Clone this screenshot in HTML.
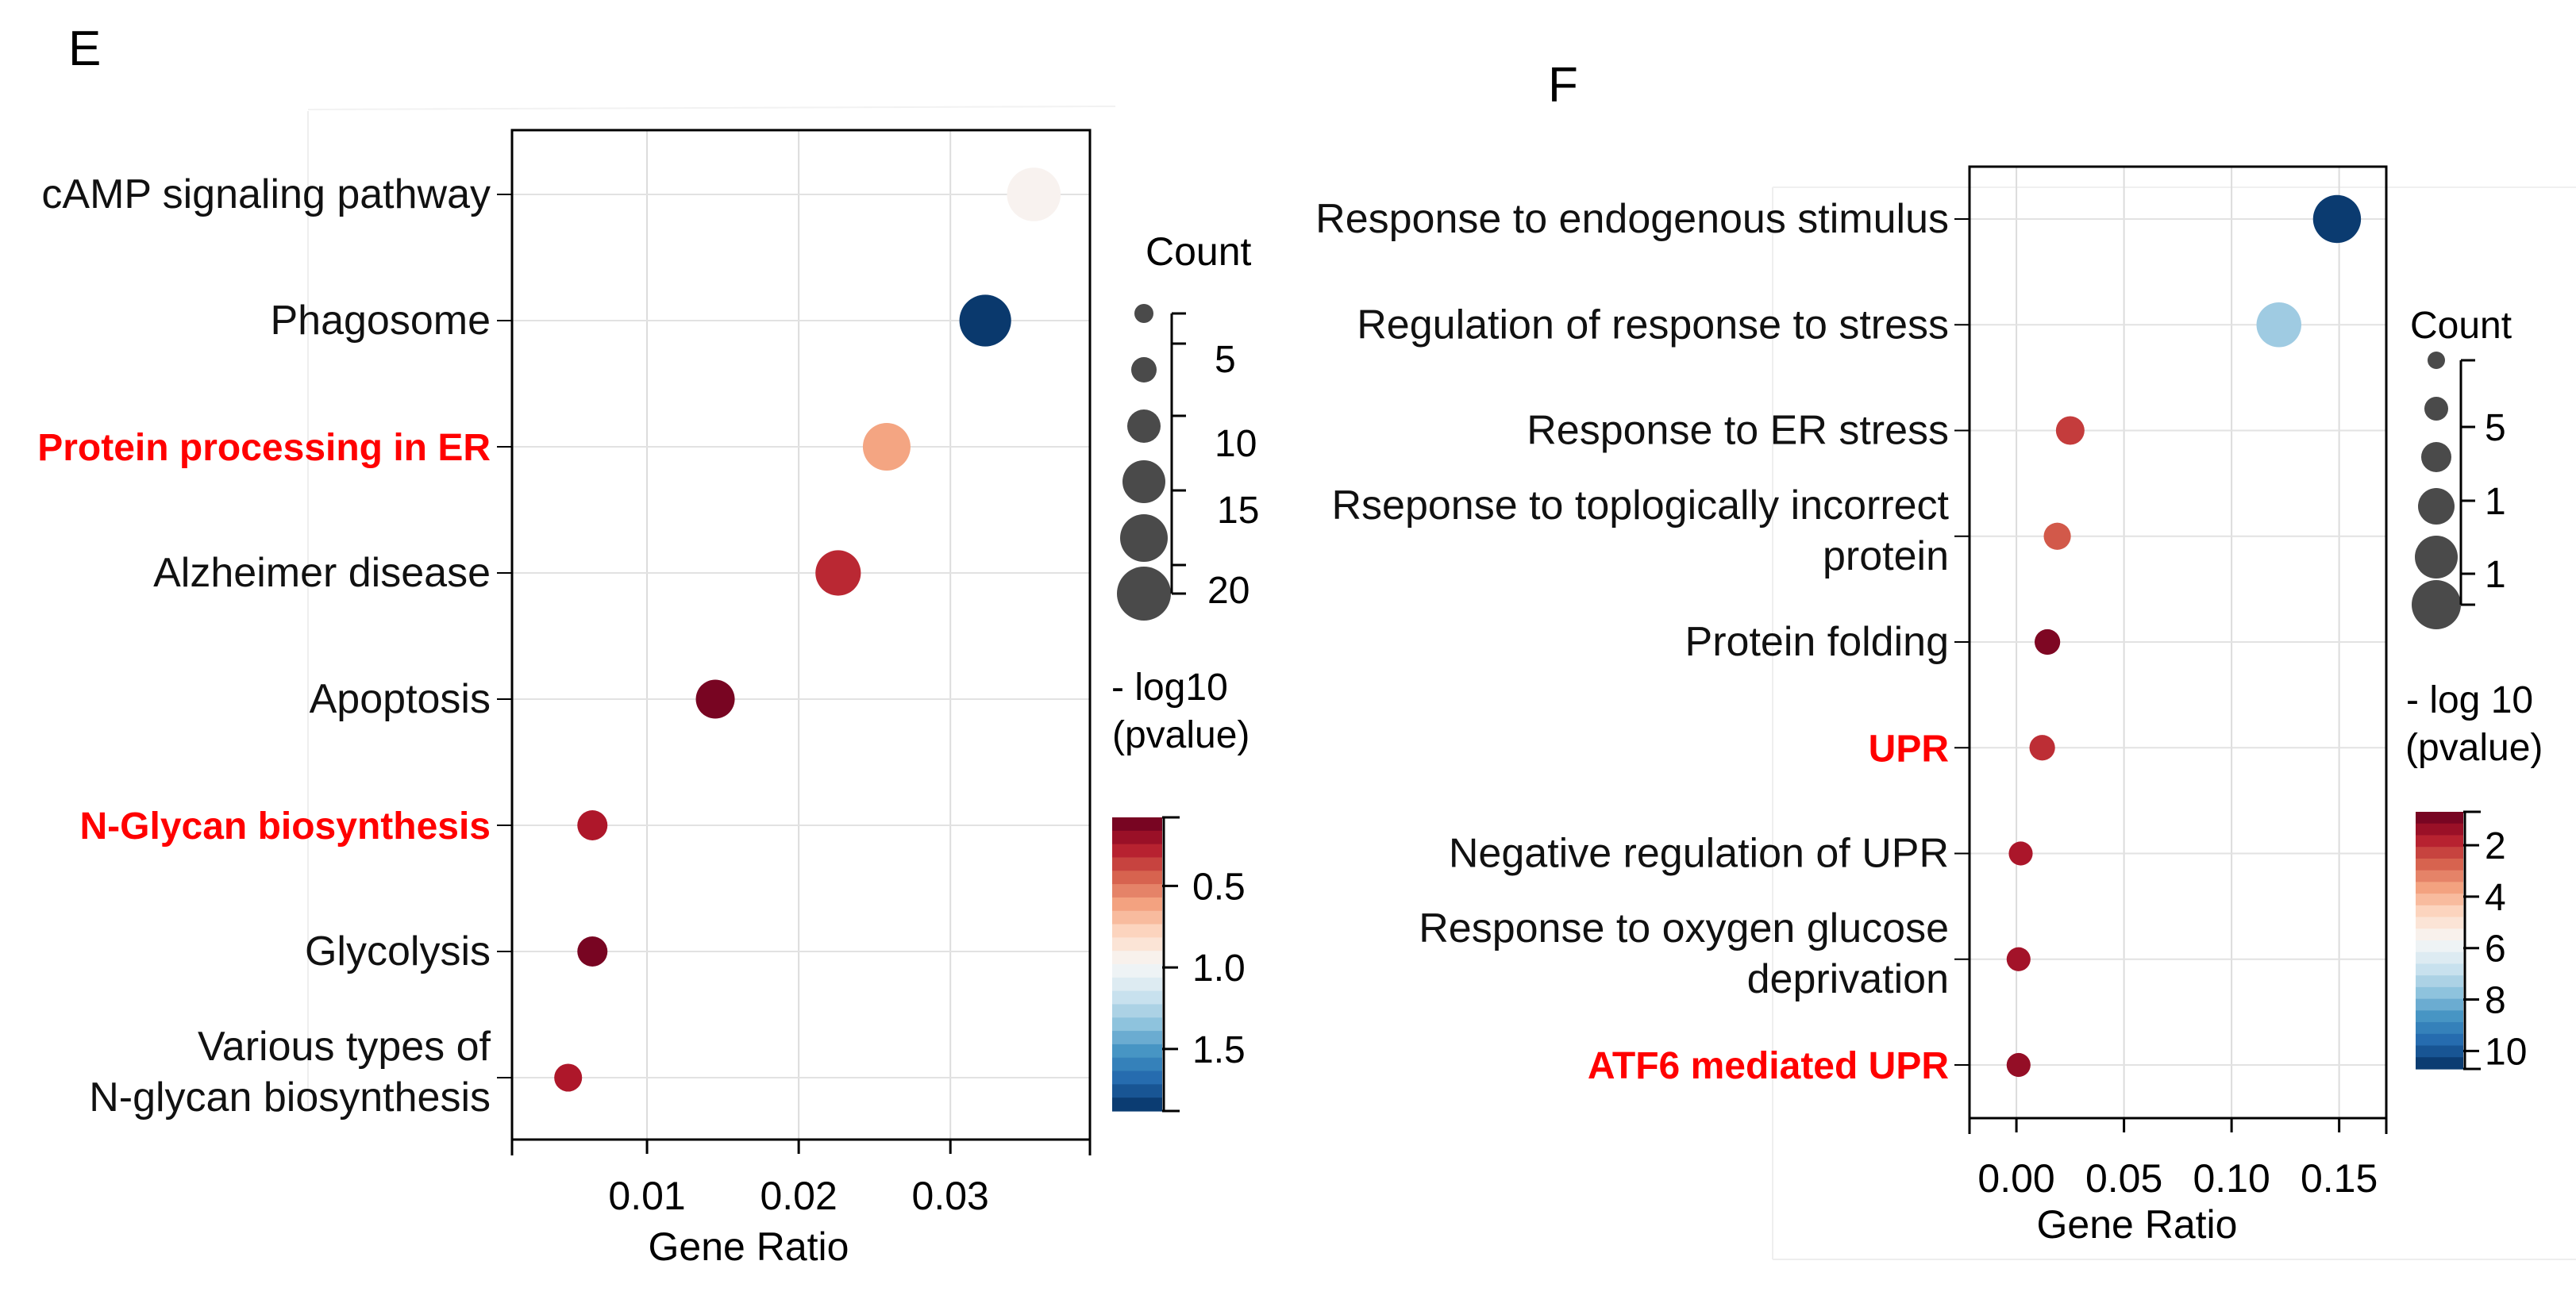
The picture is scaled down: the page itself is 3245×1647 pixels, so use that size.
<!DOCTYPE html>
<html><head><meta charset="utf-8"><style>
html,body{margin:0;padding:0;background:#fff;}
svg{display:block;font-family:"Liberation Sans",Arial,sans-serif;}
</style></head><body>
<svg id="chart" width="3245" height="1647" viewBox="0 0 3245 1647" xmlns="http://www.w3.org/2000/svg">
<rect width="3245" height="1647" fill="#fff"/>
<g id="panelE"></g>
<g id="panelF"></g>
</svg>
<script>
// Panel E data
const eCategories = ["cAMP signaling pathway","Phagosome","Protein processing in ER","Alzheimer disease","Apoptosis","N-Glycan biosynthesis","Glycolysis ","Various types of|N-glycan biosynthesis"];
const eHighlight = [false,false,true,false,false,true,false,false];
const eRatio = [0.0355,0.0323,0.0258,0.0226,0.0145,0.0064,0.0064,0.0048];
const eCount = [22,20,16,14,9,4,4,3];
const eLogP = [0.95,1.85,0.62,0.3,0.12,0.25,0.12,0.25];
const eXTicks = [0.01,0.02,0.03];
const eXTickLabels = ["0.01","0.02","0.03"];
const eSizeTicks = [5,10,15,20];
const eColorTicks = [0.5,1.0,1.5];
const eColorTickLabels = ["0.5","1.0","1.5"];
// Panel F data
const fCategories = ["Response to endogenous stimulus","Regulation of response to stress","Response to ER stress","Rseponse to toplogically incorrect|protein","Protein folding","UPR","Negative regulation of UPR","Response to oxygen glucose|deprivation","ATF6 mediated UPR"];
const fHighlight = [false,false,false,false,false,true,false,false,true];
const fRatio = [0.149,0.122,0.025,0.019,0.0144,0.012,0.002,0.001,0.001];
const fCount = [14,12,4,3.5,3,3,2.5,2.5,2.5];
const fLogP = [10.5,7.5,2.2,2.6,1.0,2.0,1.6,1.5,1.3];
const fXTicks = [0,0.05,0.10,0.15];
const fXTickLabels = ["0.00","0.05","0.10","0.15"];
const fSizeTickLabels = ["5","1","1"];
const fColorTicks = [2,4,6,8,10];
const fColorTickLabels = ["2","4","6","8","10"];

const NS="http://www.w3.org/2000/svg";
function mk(parent,tag,attrs,text){const e=document.createElementNS(NS,tag);for(const k in attrs)e.setAttribute(k,attrs[k]);if(text!==undefined)e.textContent=text;parent.appendChild(e);return e;}
const stops=["#67001f","#b2182b","#d6604d","#f4a582","#fddbc7","#f7f7f7","#d1e5f0","#92c5de","#4393c3","#2166ac","#053061"];
function hex(c){return [1,3,5].map(i=>parseInt(c.substr(i,2),16));}
function cmap(t){t=Math.max(0,Math.min(1,t));const p=t*(stops.length-1);const i=Math.min(stops.length-2,Math.floor(p));const f=p-i;const a=hex(stops[i]),b=hex(stops[i+1]);return "rgb("+a.map((v,k)=>Math.round(v+(b[k]-v)*f)).join(",")+")";}

function panel(g,cfg){
  const {L,R,T,B,x0,x1,rowY,cats,hl,ratio,count,logp,xt,xtl,labelX,rSize,cmin,cmax}=cfg;
  const xs=v=>L+(v-x0)/(x1-x0)*(R-L);
  xt.forEach((v,i)=>{const l=mk(g,'line',{x1:xs(v),x2:xs(v),y1:T,y2:B,stroke:'#dcdcdc','stroke-width':2});});
  cats.forEach((c,i)=>{const y=rowY(i);const l=mk(g,'line',{x1:L,x2:R,y1:y,y2:y,stroke:'#e2e2e2','stroke-width':2});
    const t=mk(g,'line',{x1:L-19,x2:L,y1:y,y2:y,stroke:'#000','stroke-width':2});
    const parts=c.split('|');
    parts.forEach((p,j)=>{const yy=parts.length>1?y+(j===0?-22:42):y+17;
      const tx=mk(g,'text',{x:labelX,y:yy,'text-anchor':'end','font-size':hl[i]?cfg.bfs:cfg.fs,fill:hl[i]?'#ff0000':'#111','font-weight':hl[i]?'bold':'normal','xml:space':'preserve'},p);
      });
  });
  const box=mk(g,'rect',{x:L,y:T,width:R-L,height:B-T,fill:'none',stroke:'#000','stroke-width':3});
  const ax=mk(g,'line',{x1:L,x2:R,y1:B,y2:B,stroke:'#000','stroke-width':3});
  [L,R].forEach(xx=>{const t=mk(g,'line',{x1:xx,x2:xx,y1:B,y2:B+20,stroke:'#000','stroke-width':3});});
  xt.forEach((v,i)=>{const t=mk(g,'line',{x1:xs(v),x2:xs(v),y1:B,y2:B+18,stroke:'#000','stroke-width':3});
    const tl=mk(g,'text',{x:xs(v),y:cfg.tickY,'text-anchor':'middle','font-size':cfg.tfs},xtl[i]);});
  const xt2=mk(g,'text',{x:cfg.titleX,y:cfg.titleY,'text-anchor':'middle','font-size':cfg.tfs},'Gene Ratio');
  cats.forEach((c,i)=>{const d=mk(g,'circle',{cx:xs(ratio[i]),cy:rowY(i),r:rSize(count[i]),fill:cmap((logp[i]-cmin)/(cmax-cmin))});});
}
function colorbar(g,x,y0,y1,w,cmin,cmax,ticks,labels,fs,lx){
  const n=22;const h=(y1-y0)/n;
  for(let i=0;i<n;i++){const r=mk(g,'rect',{x:x,y:y0+i*h,width:w,height:h+0.6,fill:cmap((i+0.5)/n)});}
  const a=mk(g,'line',{x1:x+w+2,x2:x+w+2,y1:y0,y2:y1,stroke:'#000','stroke-width':3});
  [y0,y1].forEach(yy=>{const t=mk(g,'line',{x1:x+w,x2:x+w+22,y1:yy,y2:yy,stroke:'#000','stroke-width':3});});
  ticks.forEach((v,i)=>{const yy=y0+(v-cmin)/(cmax-cmin)*(y1-y0);
    const t=mk(g,'line',{x1:x+w,x2:x+w+20,y1:yy,y2:yy,stroke:'#000','stroke-width':3});
    const tl=mk(g,'text',{x:lx,y:yy+17,'font-size':fs},labels[i]);});
}

// ---- Panel E
const gE=document.getElementById('panelE');
mk(gE,'line',{x1:388,x2:388,y1:140,y2:1400,stroke:'#eee','stroke-width':2});
mk(gE,'line',{x1:388,x2:1405,y1:138,y2:134,stroke:'#f2f2f2','stroke-width':2});
const eL=mk(gE,'text',{x:86,y:82,'font-size':62},'E');
panel(gE,{L:645,R:1373,T:164,B:1436,x0:0.0011,x1:0.0392,rowY:i=>245+i*159,cats:eCategories,hl:eHighlight,ratio:eRatio,count:eCount,logp:eLogP,xt:eXTicks,xtl:eXTickLabels,labelX:618,fs:52,bfs:48,tfs:50,tickY:1524,titleX:943,titleY:1588,rSize:c=>8+Math.sqrt(c)*5.5,cmin:0.08,cmax:1.88});
{
 const c=mk(gE,'text',{x:1443,y:334,'font-size':50},'Count');
 const ys=[395,466,537,607,678,748], rs=[12,16,21,27,30,34];
 ys.forEach((y,i)=>{const d=mk(gE,'circle',{cx:1441,cy:y,r:rs[i],fill:'#4a4a4a'});});
 mk(gE,'line',{x1:1476,x2:1476,y1:395,y2:748,stroke:'#000','stroke-width':3});
 [395,433,524,618,712,748].forEach(y=>mk(gE,'line',{x1:1476,x2:1494,y1:y,y2:y,stroke:'#000','stroke-width':3}));
 [[452,1530],[558,1530],[642,1533],[743,1521]].forEach((p,i)=>{const t=mk(gE,'text',{x:p[1],y:p[0]+17,'font-size':48},String(eSizeTicks[i]));});
 const l1=mk(gE,'text',{x:1400,y:882,'font-size':48},'- log10');
 mk(gE,'text',{x:1401,y:942,'font-size':48},'(pvalue)');
 colorbar(gE,1401,1030,1400,63,0.08,1.88,eColorTicks,eColorTickLabels,48,1502);
}
// ---- Panel F
const gF=document.getElementById('panelF');
mk(gF,'line',{x1:2233,x2:2233,y1:236,y2:1587,stroke:'#eee','stroke-width':2});
mk(gF,'line',{x1:2233,x2:3245,y1:236,y2:236,stroke:'#f0f0f0','stroke-width':2});
mk(gF,'line',{x1:2233,x2:3245,y1:1587,y2:1587,stroke:'#eee','stroke-width':2});
const fL=mk(gF,'text',{x:1950,y:128,'font-size':62},'F');
panel(gF,{L:2481,R:3006,T:210,B:1409,x0:-0.0218,x1:0.1719,rowY:i=>276+i*133.25,cats:fCategories,hl:fHighlight,ratio:fRatio,count:fCount,logp:fLogP,xt:fXTicks,xtl:fXTickLabels,labelX:2455,fs:52,bfs:48,tfs:50,tickY:1502,titleX:2692,titleY:1560,rSize:c=>4+Math.sqrt(c)*7,cmin:0.7,cmax:10.7});
{
 const c=mk(gF,'text',{x:3036,y:426,'font-size':48},'Count');
 const ys=[454,515,576,638,702,762], rs=[11,15,19,23,27,31];
 ys.forEach((y,i)=>{const d=mk(gF,'circle',{cx:3069,cy:y,r:rs[i],fill:'#4a4a4a'});});
 mk(gF,'line',{x1:3100,x2:3100,y1:454,y2:762,stroke:'#000','stroke-width':3});
 [454,538,631,723,762].forEach(y=>mk(gF,'line',{x1:3100,x2:3118,y1:y,y2:y,stroke:'#000','stroke-width':3}));
 [538,631,723].forEach((y,i)=>{const t=mk(gF,'text',{x:3130,y:y+17,'font-size':48},fSizeTickLabels[i]);});
 const l1=mk(gF,'text',{x:3031,y:898,'font-size':48},'- log 10');
 mk(gF,'text',{x:3030,y:958,'font-size':48},'(pvalue)');
 colorbar(gF,3043,1023,1347,60,0.7,10.7,fColorTicks,fColorTickLabels,48,3130);
}
</script>
</body></html>
